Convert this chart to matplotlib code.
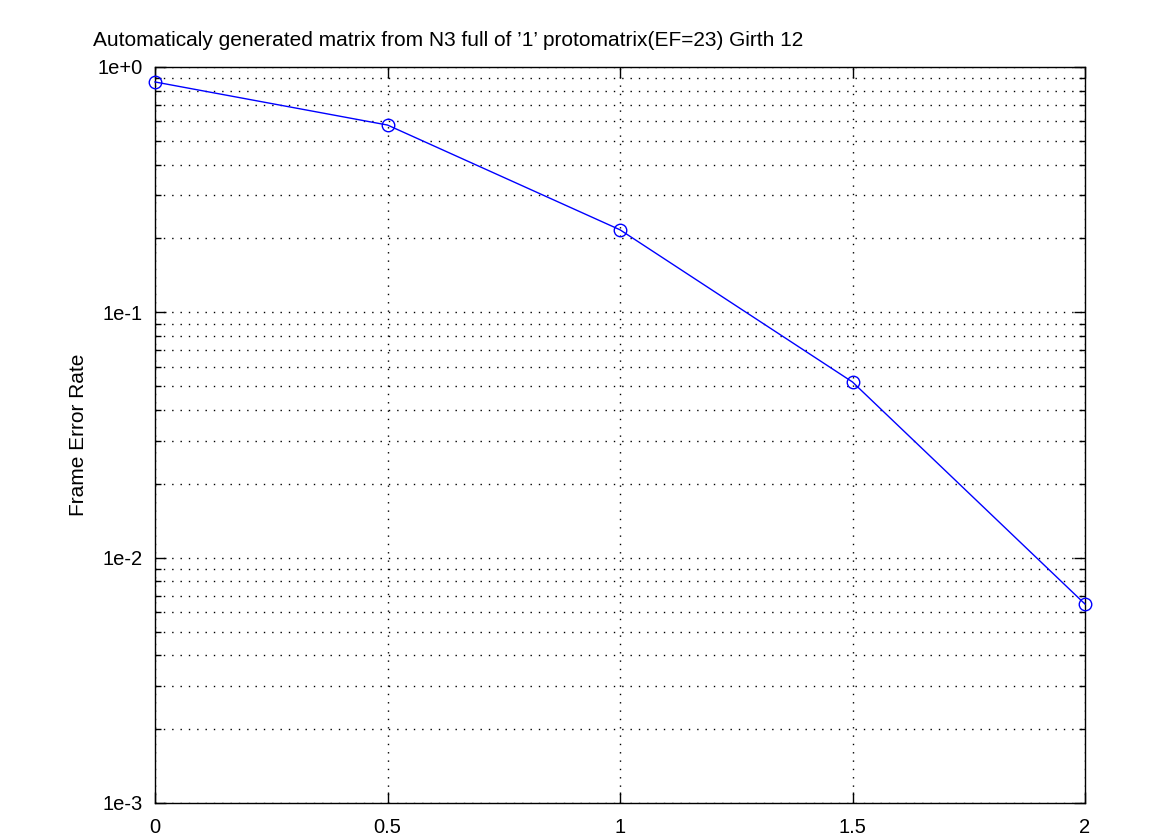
import matplotlib
matplotlib.use("Agg")
import matplotlib.pyplot as plt
from matplotlib.ticker import LogLocator, FixedLocator, FixedFormatter, NullFormatter

plt.rcParams['font.family'] = ['Liberation Sans', 'DejaVu Sans']

snr = [0, 0.5, 1, 1.5, 2]
fer = [0.869, 0.58, 0.217, 0.052, 0.00647]
xticks = [0, 0.5, 1, 1.5, 2]
xticklabels = ['0', '0.5', '1', '1.5', '2']
yticks = [1e-3, 1e-2, 1e-1, 1e0]
yticklabels = ['1e-3', '1e-2', '1e-1', '1e+0']

fig = plt.figure(figsize=(11.75, 8.35), dpi=100)
ax = fig.add_axes([155/1175, 32/835, 930/1175, 736/835])
ax.plot(snr, fer, color='blue', linewidth=1, marker='o', markersize=9,
        markerfacecolor='none', markeredgecolor='blue', markeredgewidth=1, clip_on=False, zorder=5)
ax.set_yscale('log')
ax.set_xlim(0, 2)
ax.set_ylim(1e-3, 1e0)
ax.xaxis.set_major_locator(FixedLocator(xticks))
ax.xaxis.set_major_formatter(FixedFormatter(xticklabels))
ax.yaxis.set_major_locator(FixedLocator(yticks))
ax.yaxis.set_major_formatter(FixedFormatter(yticklabels))
ax.yaxis.set_minor_locator(LogLocator(base=10, subs=range(2, 10)))
ax.yaxis.set_minor_formatter(NullFormatter())
ax.grid(True, which='major', axis='x', color='black', linestyle=(0, (1, 5)), linewidth=1)
ax.grid(True, which='both', axis='y', color='black', linestyle=(0, (1, 5)), linewidth=1)
ax.tick_params(which='both', direction='in', top=True, right=True, labelsize=14.5, width=1)
ax.tick_params(which='major', length=8)
ax.tick_params(which='minor', length=4)
ax.tick_params(axis='x', pad=11)
ax.tick_params(axis='y', pad=9)
for s in ax.spines.values():
    s.set_linewidth(1)
ax.set_ylabel('Frame Error Rate', fontsize=15, labelpad=7)
fig.text(93/1175, 1 - 40/835, "Automaticaly generated matrix from N3 full of \u20191\u2019 protomatrix(EF=23) Girth 12",
         fontsize=15, ha='left', va='center')
fig.savefig('out.png', dpi=100)
